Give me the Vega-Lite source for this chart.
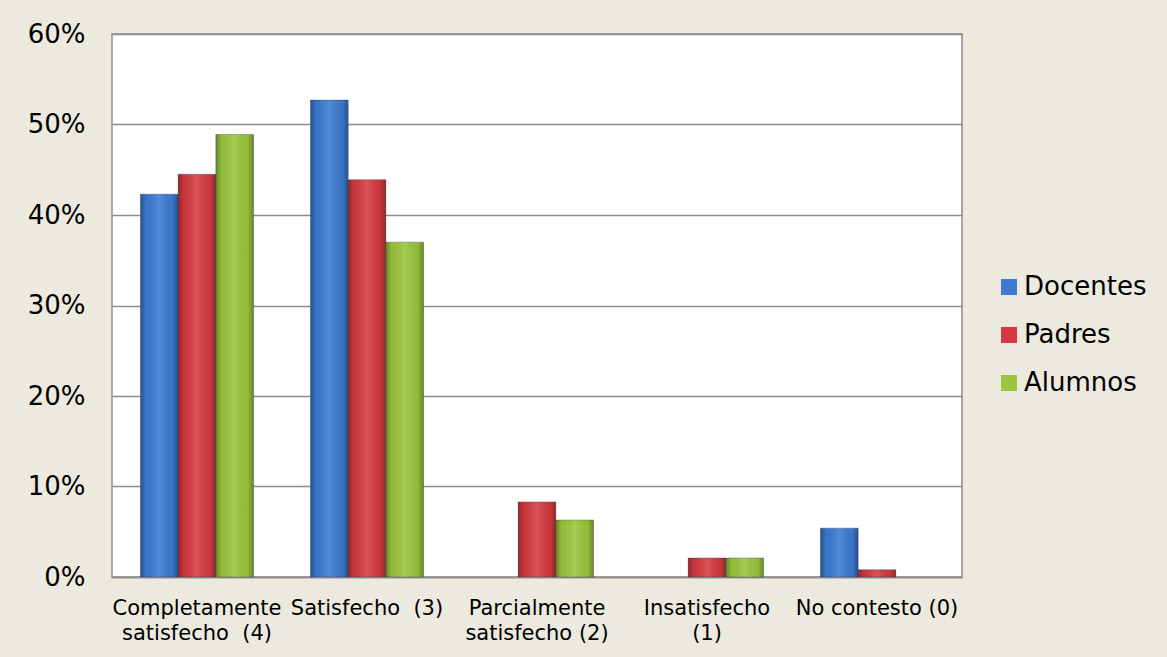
{
  "$schema": "https://vega.github.io/schema/vega-lite/v6.json",
  "width": 850,
  "height": 543,
  "autosize": {"type": "none"},
  "padding": {"left": 112, "top": 34, "right": 205, "bottom": 80},
  "background": "#ECE9DF",
  "data": {
    "values": [
      {"nivel": "Completamente satisfecho (4)", "grupo": "Docentes", "pct": 0.423},
      {"nivel": "Completamente satisfecho (4)", "grupo": "Padres", "pct": 0.445},
      {"nivel": "Completamente satisfecho (4)", "grupo": "Alumnos", "pct": 0.489},
      {"nivel": "Satisfecho (3)", "grupo": "Docentes", "pct": 0.527},
      {"nivel": "Satisfecho (3)", "grupo": "Padres", "pct": 0.439},
      {"nivel": "Satisfecho (3)", "grupo": "Alumnos", "pct": 0.37},
      {"nivel": "Parcialmente satisfecho (2)", "grupo": "Padres", "pct": 0.083},
      {"nivel": "Parcialmente satisfecho (2)", "grupo": "Alumnos", "pct": 0.063},
      {"nivel": "Insatisfecho (1)", "grupo": "Padres", "pct": 0.021},
      {"nivel": "Insatisfecho (1)", "grupo": "Alumnos", "pct": 0.021},
      {"nivel": "No contesto (0)", "grupo": "Docentes", "pct": 0.054},
      {"nivel": "No contesto (0)", "grupo": "Padres", "pct": 0.008}
    ]
  },
  "encoding": {
    "x": {
      "field": "nivel",
      "type": "nominal",
      "sort": null,
      "title": null,
      "scale": {"paddingInner": 0.335, "paddingOuter": 0.1675},
      "axis": {
        "labelAngle": 0,
        "labelExpr": "datum.value == 'Completamente satisfecho (4)' ? ['Completamente', 'satisfecho\u00a0 (4)'] : datum.value == 'Satisfecho (3)' ? 'Satisfecho\u00a0 (3)' : datum.value == 'Parcialmente satisfecho (2)' ? ['Parcialmente', 'satisfecho (2)'] : datum.value == 'Insatisfecho (1)' ? ['Insatisfecho', '(1)'] : datum.value",
        "labelFontSize": 21,
        "labelLineHeight": 25,
        "labelPadding": 20,
        "labelOverlap": false,
        "labelBound": false,
        "labelLimit": 0,
        "ticks": false,
        "domainColor": "#8C8C8C",
        "domainWidth": 1.5,
        "grid": false
      }
    },
    "xOffset": {
      "field": "grupo",
      "type": "nominal",
      "sort": ["Docentes", "Padres", "Alumnos"],
      "scale": {"domain": ["Docentes", "Padres", "Alumnos"], "paddingInner": 0, "paddingOuter": 0}
    },
    "y": {
      "field": "pct",
      "type": "quantitative",
      "title": null,
      "scale": {"domain": [0, 0.6], "nice": false},
      "axis": {
        "format": ".0%",
        "values": [0, 0.1, 0.2, 0.3, 0.4, 0.5, 0.6],
        "labelFontSize": 26,
        "labelPadding": 27,
        "ticks": false,
        "domain": false,
        "gridColor": "#8C8C8C",
        "gridWidth": 1.5,
        "gridOpacity": 1
      }
    }
  },
  "layer": [
    {
      "mark": {"type": "bar", "stroke": "#2B3B55", "strokeOpacity": 0.35, "strokeWidth": 1},
      "encoding": {
        "color": {
          "field": "grupo",
          "type": "nominal",
          "sort": ["Docentes", "Padres", "Alumnos"],
          "scale": {"domain": ["Docentes", "Padres", "Alumnos"], "range": ["#3D7BD2", "#D63A40", "#9AC63C"]},
          "legend": {
            "title": null,
            "orient": "none",
            "legendX": 884,
            "legendY": 240,
            "symbolType": "square",
            "symbolSize": 256,
            "symbolStrokeWidth": 0,
            "labelFontSize": 26,
            "labelOffset": 2,
            "rowPadding": 22,
            "labelColor": "#000000"
          }
        }
      }
    },
    {
      "mark": {
        "type": "bar",
        "fill": {
          "gradient": "linear",
          "x1": 0, "y1": 0, "x2": 1, "y2": 0,
          "stops": [
            {"offset": 0, "color": "rgba(0,0,0,0.32)"},
            {"offset": 0.15, "color": "rgba(0,0,0,0.06)"},
            {"offset": 0.5, "color": "rgba(255,255,255,0.12)"},
            {"offset": 0.85, "color": "rgba(0,0,0,0.06)"},
            {"offset": 1, "color": "rgba(0,0,0,0.32)"}
          ]
        }
      },
      "encoding": {}
    }
  ],
  "config": {
    "font": "DejaVu Sans",
    "view": {"fill": "#FFFFFF", "stroke": "#8C8C8C", "strokeWidth": 1.5},
    "axis": {"labelColor": "#000000", "labelFont": "DejaVu Sans"},
    "legend": {"labelFont": "DejaVu Sans"}
  }
}
